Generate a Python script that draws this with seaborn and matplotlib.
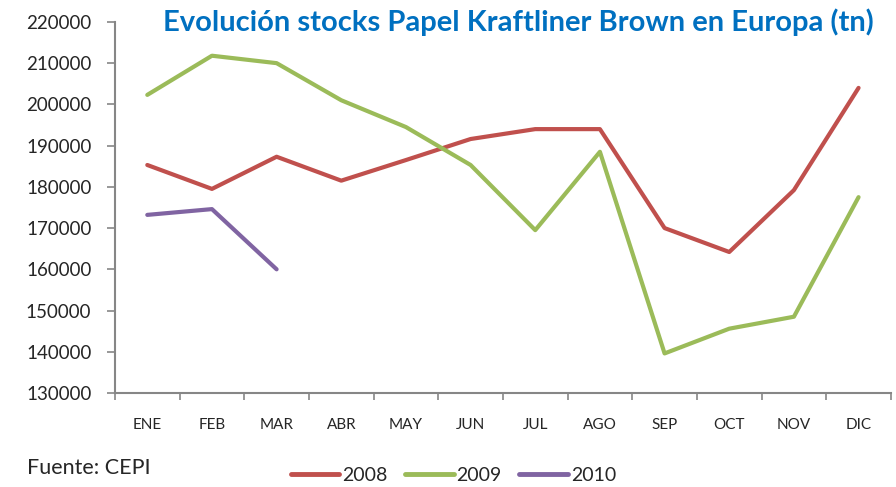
import pandas as pd
import numpy as np
import matplotlib.pyplot as plt
import seaborn as sns

meses = ['ENE', 'FEB', 'MAR', 'ABR', 'MAY', 'JUN', 'JUL', 'AGO', 'SEP', 'OCT', 'NOV', 'DIC']
stock_2008 = [185300, 179500, 187300, 181500, 186500, 191600, 194000, 194000, 170000, 164200, 179200, 204000]
stock_2009 = [202300, 211800, 210000, 201000, 194500, 185300, 169500, 188500, 139600, 145600, 148500, 177500]
stock_2010 = [173200, 174600, 160000]

filas = []
for anio, valores in [('2008', stock_2008), ('2009', stock_2009), ('2010', stock_2010)]:
    for i, v in enumerate(valores):
        filas.append({'mes': i, 'anio': anio, 'stock': v})
df = pd.DataFrame(filas)

sns.set_style('white')
plt.rcParams['font.family'] = ['Lato', 'DejaVu Sans']

colores = {'2008': '#C0504D', '2009': '#9BBB59', '2010': '#8064A2'}

fig = plt.figure(figsize=(8.96, 4.87), dpi=100)
ax = fig.add_axes([0.1283, 0.193, 0.866, 0.762])

sns.lineplot(data=df, x='mes', y='stock', hue='anio', palette=colores, linewidth=3,
             ax=ax, legend=False)

ax.set_xlim(-0.5, 11.5)
ax.set_ylim(130000, 220000)
ax.set_yticks(np.arange(130000, 220001, 10000))
ax.set_yticklabels([str(v) for v in range(130000, 220001, 10000)], fontsize=13.5)
ax.set_xticks(np.arange(-0.5, 11.6, 1))
ax.set_xticklabels([])
ax.set_xticks(np.arange(12), minor=True)
ax.set_xticklabels(meses, minor=True, fontsize=11)
ax.tick_params(axis='x', which='major', direction='out', length=5, color='#868686', width=1.2, bottom=True)
ax.tick_params(axis='x', which='minor', length=0, pad=18)
ax.tick_params(axis='y', direction='out', length=6, color='#868686', width=1.2, left=True, pad=11)
ax.set_xlabel('')
ax.set_ylabel('')

for lado in ['top', 'right']:
    ax.spines[lado].set_visible(False)
for lado in ['left', 'bottom']:
    ax.spines[lado].set_color('#868686')
    ax.spines[lado].set_linewidth(1.5)

fig.text(0.578, 0.955, 'Evolución stocks Papel Kraftliner Brown en Europa (tn)',
         ha='center', va='center', fontsize=21, fontweight='bold', color='#0070C0')
fig.text(0.03, 0.04, 'Fuente: CEPI', fontsize=15.5, ha='left', va='center')

handles = [plt.Line2D([], [], color=colores[a], linewidth=3.5, solid_capstyle='round') for a in ['2008', '2009', '2010']]
fig.legend(handles, ['2008', '2009', '2010'], loc='center', bbox_to_anchor=(0.506, 0.024),
           ncol=3, frameon=False, fontsize=14, handlelength=2.5, columnspacing=0.9, handletextpad=0.15)

fig.savefig('out.png', dpi=100)
